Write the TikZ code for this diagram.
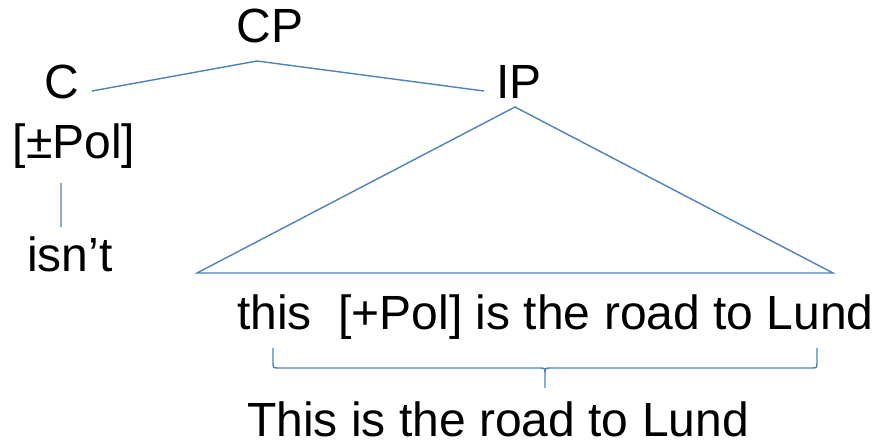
\documentclass[tikz,border=0pt]{standalone}
\usepackage{fontspec}
\setmainfont{Liberation Sans}
\usepackage{tikz}
\usepackage{xcolor}
\usetikzlibrary{
    calc,
    positioning
}
\definecolor{lineblue}{HTML}{4F81BD}

\begin{document}
\begin{tikzpicture}[x=1pt, y=-1pt,
    every node/.style={font=\fontsize{48}{58}\selectfont, inner sep=0pt, anchor=base},
    branch/.style={draw=lineblue, line width=1.4pt}]
                        \useasboundingbox (0, 0) rectangle (878, 443);
                        \node[] (cp) at (270, 43) {CP};
                        \node[] (c) at (62, 99) {C};
                        \node[] (ip) at (519, 99) {IP};
                        \node[] (pol) at (74, 159) {[±Pol]};
                        \node[] (isnt) at (70, 272) {isn’t};
                        \node[anchor=base west] (sent) at (237, 330) {this~~[+Pol] is the road to Lund};
                        \node[anchor=base west] (gloss) at (247, 436) {This is the road to Lund};
                        % branch ends
                        \coordinate (c-end) at (92, 91);
                        \coordinate (cp-foot) at (257, 61);
                        \coordinate (ip-end) at (484, 91);
                        \coordinate (pol-foot) at (61, 183);
                        \coordinate (isnt-top) at (61, 227);
                        \coordinate (ip-foot) at (515, 107);
                        \coordinate (tri-l) at (197, 273);
                        \coordinate (tri-r) at (833, 273);
                        \draw[branch]
                        (c-end) -- (cp-foot) -- (ip-end)
                        (pol-foot) -- (isnt-top)
                        (ip-foot) -- (tri-l) -- (tri-r) -- cycle;
                        % brace under the sentence
                        \coordinate (br-l) at (273, 348);
                        \coordinate (br-r) at (817, 348);
                        \coordinate (br-tip) at (545, 388);
                        \draw[branch]
                        (br-l) -- (273, 362) .. controls (273, 368) .. (279, 368) -- (539, 368)
                        .. controls (545, 368) .. (545, 374) -- (br-tip)
                        (545, 374) .. controls (545, 368) .. (551, 368) -- (811, 368)
                        .. controls (817, 368) .. (817, 362) -- (br-r);
                    \end{tikzpicture}
\end{document}
